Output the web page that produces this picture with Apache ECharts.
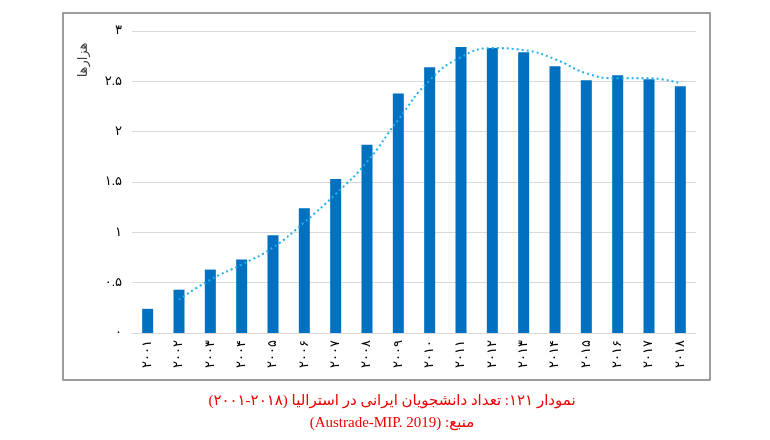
<!DOCTYPE html>
<html>
<head>
<meta charset="utf-8">
<script src="https://cdn.jsdelivr.net/npm/echarts@6/dist/echarts.min.js"></script>
<style>
  html, body { margin: 0; padding: 0; background: #fff; }
  #chart { width: 770px; height: 440px; }
</style>
</head>
<body>
<div id="chart" dir="rtl"></div>
<script>
// years 2001..2018 in Persian digits
const years = ['۲۰۰۱', '۲۰۰۲', '۲۰۰۳', '۲۰۰۴', '۲۰۰۵', '۲۰۰۶', '۲۰۰۷', '۲۰۰۸', '۲۰۰۹',
  '۲۰۱۰', '۲۰۱۱', '۲۰۱۲', '۲۰۱۳', '۲۰۱۴', '۲۰۱۵', '۲۰۱۶', '۲۰۱۷', '۲۰۱۸'];
// students (thousands)
const students = [0.24, 0.43, 0.63, 0.73, 0.97, 1.24, 1.53, 1.87, 2.38,
  2.64, 2.84, 2.83, 2.79, 2.65, 2.51, 2.56, 2.52, 2.45];
// dotted trend line, starts at 2002
const trend = [null, 0.33, 0.53, 0.68, 0.85, 1.10, 1.38, 1.70, 2.12,
  2.51, 2.74, 2.83, 2.81, 2.72, 2.58, 2.53, 2.53, 2.48];
const yTickLabels = ['۰', '۰.۵', '۱', '۱.۵', '۲', '۲.۵', '۳'];
const yName = 'هزارها';
const caption = 'نمودار ۱۲۱: تعداد دانشجویان ایرانی در استرالیا (۲۰۱۸-۲۰۰۱)';
const source = 'منبع: (Austrade-MIP. 2019)';

const font = "'Liberation Serif', 'DejaVu Sans', serif";

const chart = echarts.init(document.getElementById('chart'));
chart.setOption({
  backgroundColor: '#fff',
  animation: false,
  textStyle: { fontFamily: font },
  grid: { left: 132, right: 74, top: 31, bottom: 107 },
  title: [
    {
      text: caption,
      left: 387, top: 389, textAlign: 'center',
      textStyle: { color: '#f00000', fontSize: 15, fontWeight: 'normal', fontFamily: font }
    },
    {
      text: source,
      left: 387, top: 411, textAlign: 'center',
      textStyle: { color: '#f00000', fontSize: 15, fontWeight: 'normal', fontFamily: font }
    }
  ],
  graphic: [
    {
      type: 'rect',
      shape: { x: 63, y: 13, width: 647, height: 367 },
      style: { fill: 'none', stroke: '#7f7f7f', lineWidth: 1.5 },
      silent: true
    },
    {
      type: 'text',
      x: 84, y: 60,
      rotation: Math.PI / 2,
      style: {
        text: yName, fill: '#404040', fontSize: 13, fontFamily: font,
        align: 'center', verticalAlign: 'middle'
      }
    }
  ],
  xAxis: {
    type: 'category',
    data: years,
    axisLine: { lineStyle: { color: '#d9d9d9', width: 1 } },
    axisTick: { show: false },
    axisLabel: { rotate: 90, color: '#000', fontSize: 13, margin: 7, fontFamily: font }
  },
  yAxis: {
    type: 'value',
    min: 0, max: 3, interval: 0.5,
    axisLine: { show: false },
    axisTick: { show: false },
    splitLine: { lineStyle: { color: '#d9d9d9', width: 1 } },
    axisLabel: {
      color: '#000', fontSize: 13, margin: 10, fontFamily: font,
      formatter: (v) => yTickLabels[Math.round(v / 0.5)]
    }
  },
  series: [
    {
      type: 'bar',
      data: students,
      barWidth: 11,
      itemStyle: { color: '#0070c0' }
    },
    {
      type: 'line',
      data: trend,
      smooth: true,
      symbol: 'none',
      connectNulls: false,
      lineStyle: { color: '#1fb1ea', width: 2, type: [2, 3] },
      z: 5
    }
  ]
});
</script>
</body>
</html>
